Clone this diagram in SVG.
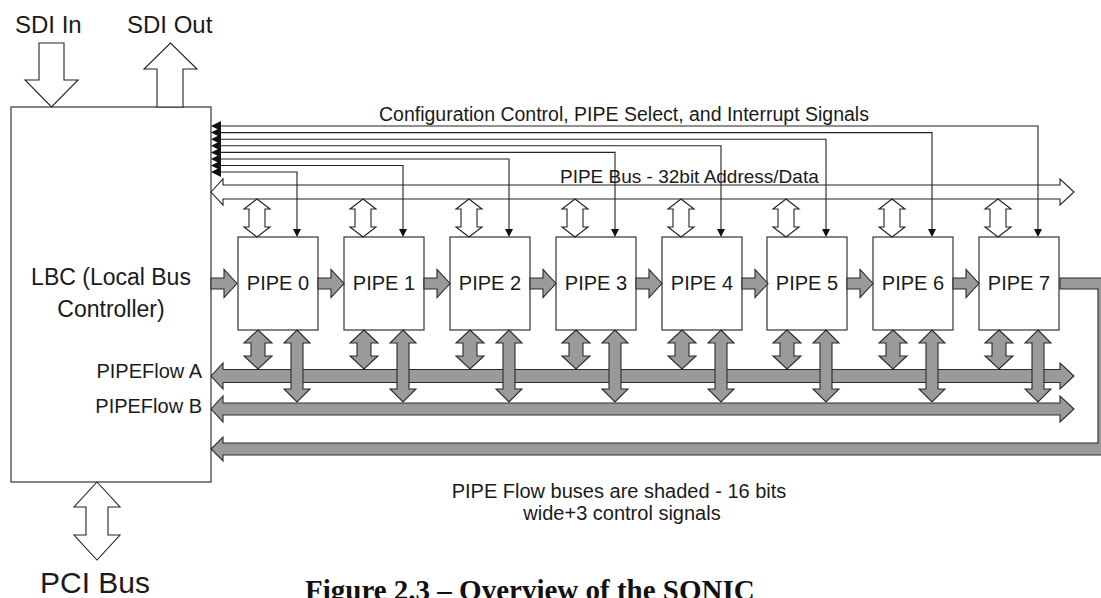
<svg xmlns="http://www.w3.org/2000/svg" xmlns:xlink="http://www.w3.org/1999/xlink" width="1101" height="598" viewBox="0 0 1101 598">
<style>
.t{font-family:"Liberation Sans",Arial,sans-serif;fill:#1a1a1a}
.box{fill:#fff;stroke:#333;stroke-width:1.2}
.hollow{fill:#fff;stroke:#222;stroke-width:1.1;stroke-linejoin:miter}
.gray{fill:#9a9a9a;stroke:#2a2a2a;stroke-width:1.1}
.ctl{fill:none;stroke:#222;stroke-width:1.1}
.head{fill:#111}
</style>
<defs>
<polygon id="hs" points="0,0 13,10 8,10 8,28 13,28 0,38 -13,28 -8,28 -8,10 -13,10"/>
<polygon id="gs" points="0,0 14,13 7,13 7,26 14,26 0,39 -14,26 -7,26 -7,13 -14,13"/>
<polygon id="gb" points="0,0 13,13 6,13 6,59 13,59 0,72 -13,59 -6,59 -6,13 -13,13"/>
<polygon id="gr" points="0,-5.5 13,-5.5 13,-14 26,0 13,14 13,5.5 0,5.5"/>
<polygon id="dh" points="-4,-8 4,-8 0,0"/>
<polygon id="lh" points="0,0 10,-5 10,5"/>
</defs>

<g id="lbc">
<rect class="box" x="11" y="107" width="200" height="375"/>
<text class="t" x="111" y="285" font-size="23" text-anchor="middle">LBC (Local Bus</text>
<text class="t" x="111" y="317" font-size="23" text-anchor="middle">Controller)</text>
</g>

<g id="pipe0"><rect class="box" x="238" y="237" width="80" height="93"/><text class="t" x="278" y="290" font-size="20" text-anchor="middle">PIPE 0</text></g>
<g id="pipe1"><rect class="box" x="344" y="237" width="80" height="93"/><text class="t" x="384" y="290" font-size="20" text-anchor="middle">PIPE 1</text></g>
<g id="pipe2"><rect class="box" x="450" y="237" width="80" height="93"/><text class="t" x="490" y="290" font-size="20" text-anchor="middle">PIPE 2</text></g>
<g id="pipe3"><rect class="box" x="556" y="237" width="80" height="93"/><text class="t" x="596" y="290" font-size="20" text-anchor="middle">PIPE 3</text></g>
<g id="pipe4"><rect class="box" x="662" y="237" width="80" height="93"/><text class="t" x="702" y="290" font-size="20" text-anchor="middle">PIPE 4</text></g>
<g id="pipe5"><rect class="box" x="767" y="237" width="80" height="93"/><text class="t" x="807" y="290" font-size="20" text-anchor="middle">PIPE 5</text></g>
<g id="pipe6"><rect class="box" x="873" y="237" width="80" height="93"/><text class="t" x="913" y="290" font-size="20" text-anchor="middle">PIPE 6</text></g>
<g id="pipe7"><rect class="box" x="979" y="237" width="80" height="93"/><text class="t" x="1019" y="290" font-size="20" text-anchor="middle">PIPE 7</text></g>

<g id="connectors">
<!-- SDI arrows -->
<polygon class="hollow" points="39,43 64,43 64,80 78,80 51.5,107 25,80 39,80"/>
<polygon class="hollow" points="157,107 183,107 183,69 197,69 170.5,43 144,69 157,69"/>
<!-- PCI bus arrow -->
<polygon class="hollow" points="97,482 120,507 108,507 108,535 120,535 97,560 74,535 86,535 86,507 74,507"/>

<!-- PIPE bus -->
<polygon class="hollow" points="211,192 223,179 223,185 1060,185 1060,179 1074,192 1060,205 1060,199 223,199 223,205"/>

<!-- control lines -->
<path class="ctl" d="M221,172H297V230 M221,165.5H403V230 M221,159H509V230 M221,152.4H615V230 M221,145.8H721V230 M221,139.2H826V230 M221,132.6H932V230 M221,126H1038V230"/>
<use href="#dh" x="297" y="237" class="head"/>
<use href="#dh" x="403" y="237" class="head"/>
<use href="#dh" x="509" y="237" class="head"/>
<use href="#dh" x="615" y="237" class="head"/>
<use href="#dh" x="721" y="237" class="head"/>
<use href="#dh" x="826" y="237" class="head"/>
<use href="#dh" x="932" y="237" class="head"/>
<use href="#dh" x="1038" y="237" class="head"/>
<use href="#lh" x="211" y="126" class="head"/>
<use href="#lh" x="211" y="132.6" class="head"/>
<use href="#lh" x="211" y="139.2" class="head"/>
<use href="#lh" x="211" y="145.8" class="head"/>
<use href="#lh" x="211" y="152.4" class="head"/>
<use href="#lh" x="211" y="159" class="head"/>
<use href="#lh" x="211" y="165.5" class="head"/>
<use href="#lh" x="211" y="172" class="head"/>

<!-- PIPE bus to PIPE -->
<use href="#hs" x="257" y="199" class="hollow"/>
<use href="#hs" x="363" y="199" class="hollow"/>
<use href="#hs" x="469" y="199" class="hollow"/>
<use href="#hs" x="575" y="199" class="hollow"/>
<use href="#hs" x="681" y="199" class="hollow"/>
<use href="#hs" x="786" y="199" class="hollow"/>
<use href="#hs" x="892" y="199" class="hollow"/>
<use href="#hs" x="998" y="199" class="hollow"/>

<!-- return path from PIPE 7 -->
<polygon class="gray" points="1060,278 1110,278 1110,455 223,455 223,461 211,449 223,437 223,443 1098,443 1098,289 1060,289"/>

<!-- pipeline arrows -->
<use href="#gr" x="211" y="283.5" class="gray"/>
<use href="#gr" x="318" y="283.5" class="gray"/>
<use href="#gr" x="424" y="283.5" class="gray"/>
<use href="#gr" x="530" y="283.5" class="gray"/>
<use href="#gr" x="636" y="283.5" class="gray"/>
<use href="#gr" x="742" y="283.5" class="gray"/>
<use href="#gr" x="847" y="283.5" class="gray"/>
<use href="#gr" x="953" y="283.5" class="gray"/>

<!-- PIPEFlow A and B -->
<polygon class="gray" points="211,376 223,363 223,369.5 1060,369.5 1060,363 1074,376 1060,389 1060,382.5 223,382.5 223,389"/>
<polygon class="gray" points="211,409 223,396 223,403 1060,403 1060,396 1074,409 1060,422 1060,415 223,415 223,422"/>

<!-- PIPE to PIPEFlow A (small) -->
<use href="#gs" x="258" y="330" class="gray"/>
<use href="#gs" x="364" y="330" class="gray"/>
<use href="#gs" x="470" y="330" class="gray"/>
<use href="#gs" x="576" y="330" class="gray"/>
<use href="#gs" x="682" y="330" class="gray"/>
<use href="#gs" x="787" y="330" class="gray"/>
<use href="#gs" x="893" y="330" class="gray"/>
<use href="#gs" x="999" y="330" class="gray"/>
<!-- PIPE to PIPEFlow B (big) -->
<use href="#gb" x="297" y="330" class="gray"/>
<use href="#gb" x="403" y="330" class="gray"/>
<use href="#gb" x="509" y="330" class="gray"/>
<use href="#gb" x="615" y="330" class="gray"/>
<use href="#gb" x="721" y="330" class="gray"/>
<use href="#gb" x="826" y="330" class="gray"/>
<use href="#gb" x="932" y="330" class="gray"/>
<use href="#gb" x="1038" y="330" class="gray"/>
</g>

<g id="labels">
<text class="t" x="15" y="33" font-size="24">SDI In</text>
<text class="t" x="127" y="33" font-size="24">SDI Out</text>
<text class="t" x="379" y="121" font-size="19.5">Configuration Control, PIPE Select, and Interrupt Signals</text>
<text class="t" x="560" y="183" font-size="19">PIPE Bus - 32bit Address/Data</text>
<text class="t" x="202" y="378" font-size="20" text-anchor="end">PIPEFlow A</text>
<text class="t" x="202" y="413" font-size="20" text-anchor="end">PIPEFlow B</text>
<text class="t" x="619" y="498" font-size="20" text-anchor="middle">PIPE Flow buses are shaded - 16 bits</text>
<text class="t" x="622" y="520" font-size="20" text-anchor="middle">wide+3 control signals</text>
<text class="t" x="40" y="593" font-size="30">PCI Bus</text>
<text x="305" y="600" font-size="29" font-weight="bold" font-family="'Liberation Serif','Times New Roman',serif" fill="#111">Figure 2.3 – Overview of the SONIC</text>
</g>
</svg>
